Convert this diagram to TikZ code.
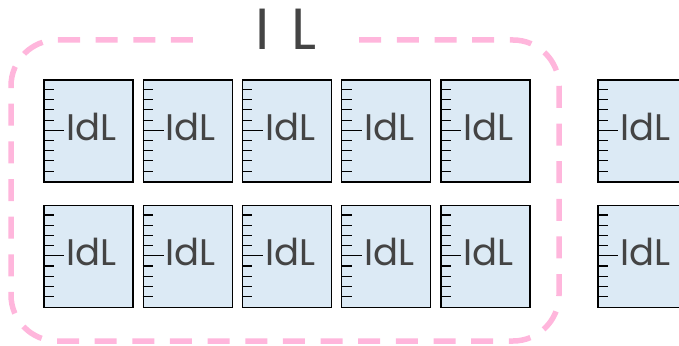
\documentclass[tikz,border=0pt]{standalone}
\usepackage{fontspec}
\setmainfont{Poppins}
\definecolor{boxfill}{RGB}{220,234,245}
\definecolor{pinkdash}{RGB}{255,182,220}
\definecolor{txt}{RGB}{68,68,68}
\begin{document}
\begin{tikzpicture}[x=1pt,y=-1pt,
 cell/.style={draw=black,line width=1.4pt,fill=boxfill,minimum width=89pt,minimum height=102pt,inner sep=0pt},
 lbl/.style={font=\fontsize{37}{37}\selectfont,text=txt,inner sep=0pt,anchor=base west},
 tickln/.style={line width=1.1pt,black},
 frame/.style={pinkdash,line width=5.5pt,dash pattern=on 22pt off 15.65pt,rounded corners=46pt},
 ttl/.style={font=\fontsize{58}{58}\selectfont,text=txt,inner sep=0pt,anchor=base west}]
\useasboundingbox (0,0) rectangle (679,345);
\draw[frame] (58,40) -- (559,40) -- (559,341) -- (11,341) -- (11,40) -- (58,40);
\fill[white] (198,30) rectangle (354,50);
\node[ttl] (title) at (255.5,49) {I\kern6pt{} L};
\foreach \c/\x in {1/88.5,2/187.75,3/287,4/386.25,5/485.5,6/642.5}{
  \foreach \r/\y in {1/131,2/256.5}{
    \node[cell] (b\r\c) at (\x,\y) {};
    \node[lbl] (t\r\c) at ([xshift=23pt,yshift=-9pt]b\r\c.west) {IdL};
    \foreach \i/\l in {1/10.5,2/10.5,3/10.5,4/10.5,5/21,6/10.5,7/10.5,8/10.5,9/10.5}{
      \draw[tickln] ([yshift=-\i*10.2pt]b\r\c.north west) -- ++(\l,0);
    }
  }
}
\end{tikzpicture}
\end{document}
